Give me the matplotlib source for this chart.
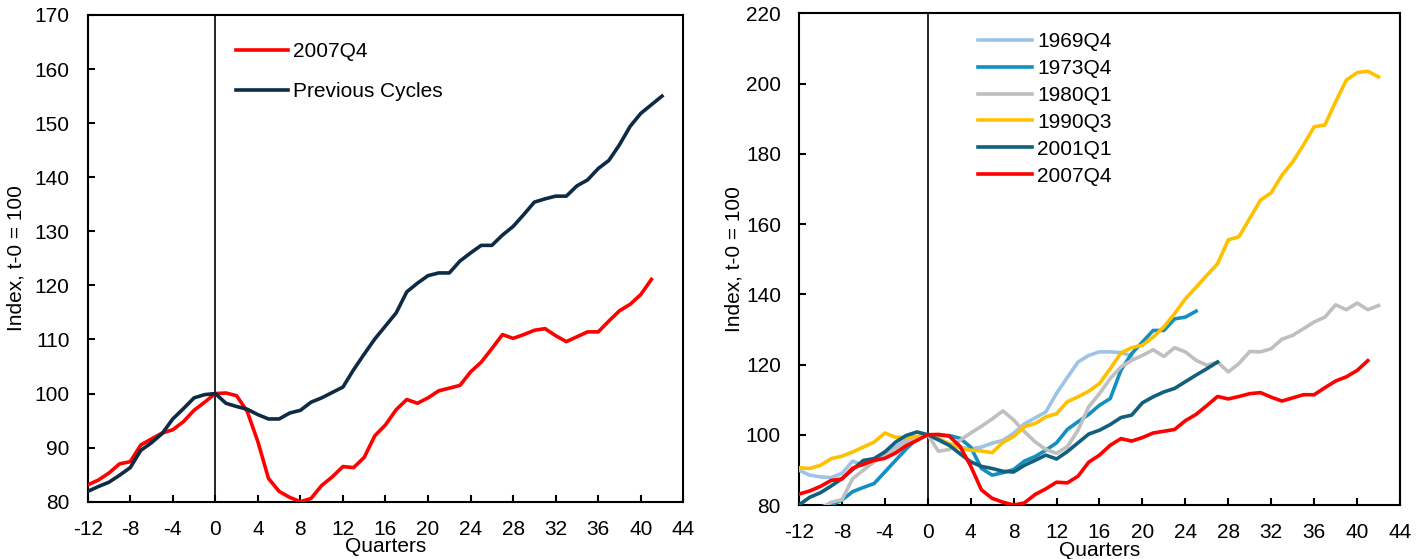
import matplotlib
matplotlib.use('Agg')
import matplotlib.pyplot as plt
import numpy as np

plt.rcParams['font.family'] = ['Liberation Sans', 'DejaVu Sans']
plt.rcParams['font.size'] = 15
plt.rcParams['axes.unicode_minus'] = False

# quarters relative to the peak (t-0)
q_red = np.arange(-12, 42)
q_prev = np.arange(-12, 43)

# 2007Q4 cycle
red_2007 = [83.1, 84.0, 85.3, 87.0, 87.4, 90.5, 91.6, 92.7, 93.3, 94.8, 96.9, 98.4,
            100.0, 100.1, 99.6, 96.7, 91.1, 84.3, 81.9, 80.8, 80.0, 80.6,
            83.0, 84.6, 86.5, 86.3, 88.2, 92.2, 94.2, 97.0, 98.9, 98.2,
            99.2, 100.5, 101.0, 101.5, 104.0, 105.8, 108.3, 110.9, 110.2, 110.9,
            111.7, 112.0, 110.7, 109.6, 110.5, 111.4, 111.4, 113.4, 115.3, 116.5,
            118.3, 121.1]

# average of previous cycles
prev_cycles = [81.9, 82.8, 83.6, 84.9, 86.3, 89.5, 90.9, 92.6, 95.3, 97.2, 99.2, 99.8,
               100.0, 98.2, 97.6, 97.1, 96.1, 95.3, 95.3, 96.4, 96.9, 98.4,
               99.2, 100.2, 101.2, 104.4, 107.3, 110.1, 112.5, 114.9, 118.8, 120.4,
               121.8, 122.3, 122.3, 124.5, 126.0, 127.4, 127.4, 129.3, 130.9, 133.1,
               135.4, 136.0, 136.5, 136.5, 138.4, 139.5, 141.6, 143.1, 146.0, 149.4,
               151.8, 153.4, 155.0]

# individual cycles (right panel)
q_1969 = np.arange(-12, 20)
c_1969 = [89.9, 88.5, 88.0, 87.8, 89.0, 92.5, 91.3, 93.2, 95.1, 96.5, 98.6, 99.3,
          100.0, 98.4, 97.0, 96.5, 96.0, 96.5, 97.6, 98.4, 100.4, 103.1,
          104.8, 106.5, 111.8, 116.3, 120.7, 122.6, 123.6, 123.6, 123.4, 122.5]

q_1973 = np.arange(-12, 26)
c_1973 = [77.0, 78.0, 79.5, 80.0, 81.4, 83.8, 85.0, 86.1, 89.4, 92.7, 96.0, 98.9,
          100.0, 99.8, 99.8, 99.0, 96.5, 90.4, 88.5, 89.2, 90.1, 92.5,
          93.8, 95.6, 97.7, 101.5, 103.7, 105.8, 108.4, 110.3, 118.4, 123.1,
          126.4, 129.7, 129.7, 133.0, 133.5, 135.2]

q_1980 = np.arange(-12, 43)
c_1980 = [75.0, 77.0, 79.0, 80.8, 81.5, 87.5, 89.9, 92.3, 94.2, 95.8, 97.9, 99.3,
          100.0, 95.3, 95.8, 98.4, 100.5, 102.4, 104.5, 106.8, 104.2, 100.9,
          98.0, 95.8, 94.7, 96.6, 101.3, 108.0, 111.7, 116.0, 119.3, 121.2,
          122.6, 124.2, 122.3, 124.8, 123.6, 121.2, 119.8, 120.7, 117.9, 120.3,
          123.7, 123.6, 124.5, 127.2, 128.3, 130.2, 132.1, 133.5, 137.0, 135.6,
          137.5, 135.6, 136.8]

q_1990 = np.arange(-12, 43)
c_1990 = [90.6, 90.4, 91.3, 93.2, 93.9, 95.1, 96.5, 97.9, 100.5, 99.3, 99.3, 99.5,
          100.0, 98.9, 97.5, 96.3, 95.6, 95.4, 94.9, 97.8, 99.5, 102.3,
          103.2, 105.1, 106.0, 109.4, 110.8, 112.4, 114.6, 118.8, 123.3, 124.8,
          125.5, 127.8, 130.7, 134.5, 138.7, 142.0, 145.4, 148.7, 155.5, 156.4,
          161.6, 166.8, 168.9, 173.9, 177.7, 182.5, 187.7, 188.2, 194.8, 201.0,
          203.1, 203.5, 201.9]

q_2001 = np.arange(-12, 28)
c_2001 = [80.0, 82.2, 83.5, 85.4, 87.5, 90.1, 92.7, 93.2, 95.1, 97.9, 99.8, 100.8,
          100.0, 98.6, 97.0, 94.6, 92.3, 91.0, 90.4, 89.6, 89.4, 91.3,
          92.7, 94.2, 93.1, 95.2, 97.7, 100.2, 101.3, 102.9, 104.9, 105.6,
          109.1, 110.8, 112.2, 113.2, 115.1, 117.0, 118.8, 120.7]

xticks = np.arange(-12, 45, 4)


def style_axes(ax, ymin, ymax, ystep):
    ax.set_xlim(-12, 44)
    ax.set_ylim(ymin, ymax)
    ax.set_xticks(xticks)
    ax.set_yticks(np.arange(ymin, ymax + 1, ystep))
    ax.tick_params(direction='in', length=5, width=1.5, pad=13, labelsize=15)
    for s in ax.spines.values():
        s.set_linewidth(1.5)
    ax.axvline(0, color='black', lw=1.2, zorder=1)
    ax.set_xlabel('Quarters', labelpad=-1, fontsize=15)
    ax.set_ylabel('Index, t-0 = 100', fontsize=15)


fig = plt.figure(figsize=(14.28, 5.59), dpi=100)

# left panel ++++++++++++++++++++++++++++++++++++++++++++++++++++++++++++++++++++
ax1 = fig.add_axes([0.0614, 0.1025, 0.4171, 0.8707])
ax1.plot(q_red, red_2007, color='#FF0000', lw=2.6, label='2007Q4', zorder=3)
ax1.plot(q_prev, prev_cycles, color='#0E2B45', lw=2.6, label='Previous Cycles', zorder=3)
style_axes(ax1, 80, 170, 10)
ax1.yaxis.set_label_coords(-0.1036, 0.5)
ax1.legend(loc='upper left', bbox_to_anchor=(0.249, 0.944), frameon=False,
           handlelength=2.5, handletextpad=0.25, labelspacing=1.0,
           borderpad=0, borderaxespad=0, fontsize=15)

# right panel ++++++++++++++++++++++++++++++++++++++++++++++++++++++++++++++++++++
ax2 = fig.add_axes([0.5595, 0.0966, 0.4209, 0.8796])
ax2.plot(q_1969, c_1969, color='#9DC3E6', lw=2.6, label='1969Q4', zorder=3)
ax2.plot(q_1973, c_1973, color='#1390C0', lw=2.6, label='1973Q4', zorder=3)
ax2.plot(q_1980, c_1980, color='#BFBFBF', lw=2.6, label='1980Q1', zorder=3)
ax2.plot(q_1990, c_1990, color='#FFC000', lw=2.6, label='1990Q3', zorder=3)
ax2.plot(q_2001, c_2001, color='#11607E', lw=2.6, label='2001Q1', zorder=3)
ax2.plot(q_red, red_2007, color='#FF0000', lw=2.6, label='2007Q4', zorder=3)
style_axes(ax2, 80, 220, 20)
ax2.yaxis.set_label_coords(-0.0915, 0.5)
ax2.legend(loc='upper left', bbox_to_anchor=(0.298, 0.962), frameon=False,
           handlelength=2.6, handletextpad=0.25, labelspacing=0.38,
           borderpad=0, borderaxespad=0, fontsize=15)

fig.savefig('out.png', dpi=100)
plt.close()
